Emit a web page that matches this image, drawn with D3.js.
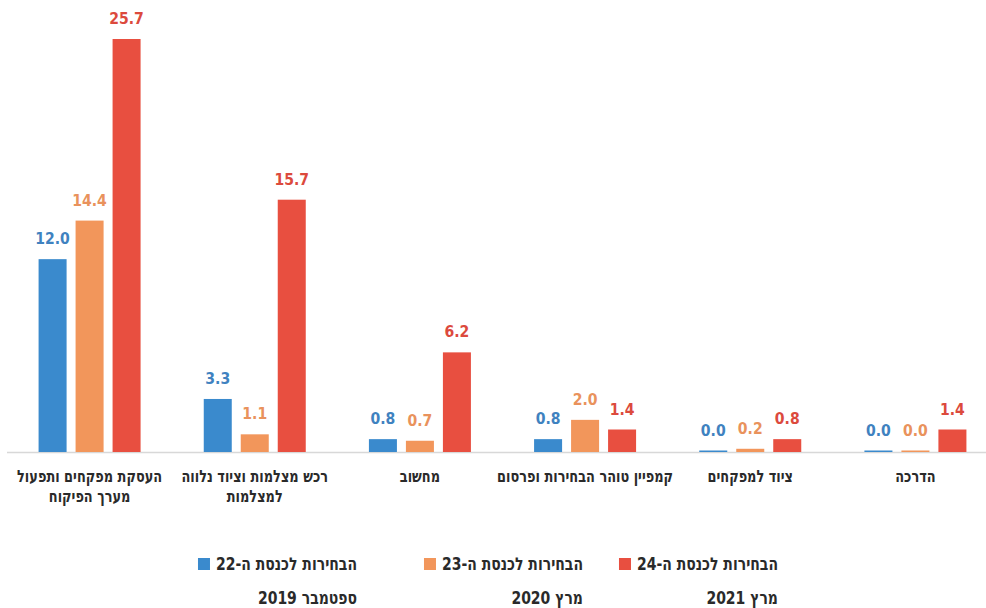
<!DOCTYPE html>
<html lang="he">
<head>
  <meta charset="UTF-8">
  <title>Chart</title>
</head>
<style>
  body {
    margin: 0;
    background: #fff;
  }
  svg {
    display: block;
  }
  text {
    font-family: "DejaVu Sans", sans-serif;
  }
</style>
<body>
<svg width="986" height="608"></svg>
<script src="https://cdn.jsdelivr.net/npm/d3@7/dist/d3.min.js"></script>
<script>
  // categories, left to right as in the picture
  const categories = [
    ['העסקת מפקחים ותפעול', 'מערך הפיקוח'],
    ['רכש מצלמות וציוד נלווה', 'למצלמות'],
    ['מחשוב'],
    ['קמפיין טוהר הבחירות ופרסום'],
    ['ציוד למפקחים'],
    ['הדרכה']
  ];
  const knesset22 = [12.0, 3.3, 0.8, 0.8, 0.0, 0.0];
  const knesset23 = [14.4, 1.1, 0.7, 2.0, 0.2, 0.0];
  const knesset24 = [25.7, 15.7, 6.2, 1.4, 0.8, 1.4];

  const seriesNames = ['הבחירות לכנסת ה-22', 'הבחירות לכנסת ה-23', 'הבחירות לכנסת ה-24'];
  const seriesDates = ['ספטמבר 2019', 'מרץ 2020', 'מרץ 2021'];
  const barColors = ['#3a8acd', '#f2965b', '#e84f40'];
  const labelColors = ['#3f82c0', '#e9925c', '#dc4a3d'];

  const series = [knesset22, knesset23, knesset24];

  const svg = d3.select('svg');
  const baseY = 452;

  // the original uses a condensed face, so squeeze text horizontally
  const squeeze = (x, y, s) => `translate(${x},${y}) scale(${s},1)`;

  const x0 = d3.scaleBand()
    .domain(d3.range(categories.length))
    .range([7, 998])
    .paddingInner(0)
    .paddingOuter(0);

  const x1 = d3.scaleBand()
    .domain(d3.range(series.length))
    .range([-51, 51])
    .paddingInner(0.243)
    .paddingOuter(0);

  const y = d3.scaleLinear()
    .domain([0, 25.7])
    .range([baseY, 39]);

  // baseline
  svg.append('line')
    .attr('x1', 7).attr('x2', 986)
    .attr('y1', baseY + 0.5).attr('y2', baseY + 0.5)
    .attr('stroke', '#d8d8d8')
    .attr('stroke-width', 1.5);

  const groups = svg.selectAll('g.group')
    .data(categories)
    .enter().append('g')
    .attr('class', 'group')
    .attr('transform', (d, i) => `translate(${x0(i) + x0.bandwidth() / 2},0)`);

  groups.each(function(cat, ci) {
    const g = d3.select(this);
    const vals = series.map(s => s[ci]);

    g.selectAll('rect')
      .data(vals)
      .enter().append('rect')
      .attr('x', (d, si) => x1(si))
      .attr('width', x1.bandwidth())
      .attr('y', d => Math.min(y(d), baseY - 1.5))
      .attr('height', d => Math.max(baseY - y(d), 1.5))
      .attr('fill', (d, si) => barColors[si]);

    g.selectAll('text.val')
      .data(vals)
      .enter().append('text')
      .attr('class', 'val')
      .attr('transform', (d, si) => squeeze(x1(si) + x1.bandwidth() / 2, Math.min(y(d), baseY - 1.5) - 15, 0.85))
      .attr('text-anchor', 'middle')
      .attr('font-size', 16.5)
      .attr('font-weight', 'bold')
      .attr('fill', (d, si) => labelColors[si])
      .text(d => d3.format('.1f')(d));

    g.selectAll('text.cat')
      .data(cat)
      .enter().append('text')
      .attr('class', 'cat')
      .attr('transform', (d, li) => squeeze(0, 482 + li * 20, 0.76))
      .attr('text-anchor', 'middle')
      .attr('direction', 'rtl')
      .attr('font-size', 17)
      .attr('font-weight', 'bold')
      .attr('fill', '#2a2a2a')
      .text(d => d);
  });

  // legend (text right edges)
  const legendRight = [357, 583, 778];
  const legendScale = 0.8;
  const legend = svg.selectAll('g.legend')
    .data(seriesNames)
    .enter().append('g')
    .attr('class', 'legend')
    .attr('transform', (d, i) => `translate(${legendRight[i]},0)`);

  legend.append('text')
    .attr('transform', squeeze(0, 570, legendScale))
    .attr('text-anchor', 'start')
    .attr('direction', 'rtl')
    .attr('font-size', 17.5)
    .attr('font-weight', 'bold')
    .attr('fill', '#2a2a2a')
    .text(d => d);

  legend.append('text')
    .attr('transform', squeeze(0, 604, legendScale))
    .attr('text-anchor', 'start')
    .attr('direction', 'rtl')
    .attr('font-size', 17.5)
    .attr('font-weight', 'bold')
    .attr('fill', '#2a2a2a')
    .text((d, i) => seriesDates[i]);

  legend.each(function(d, i) {
    const g = d3.select(this);
    const w = g.select('text').node().getComputedTextLength() * legendScale;
    g.append('rect')
      .attr('x', -w - 18)
      .attr('y', 558)
      .attr('width', 12)
      .attr('height', 12)
      .attr('fill', barColors[i]);
  });
</script>
</body>
</html>
